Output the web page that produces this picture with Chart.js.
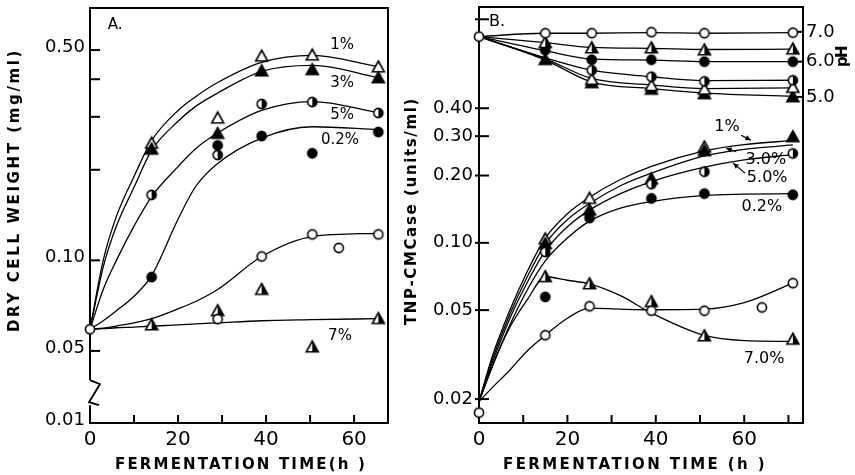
<!DOCTYPE html>
<html>
<head>
<meta charset="utf-8">
<script src="https://cdn.jsdelivr.net/npm/chart.js@4.4.0/dist/chart.umd.min.js"></script>
<style>
  html, body { margin: 0; padding: 0; background: #fff; }
  #wrap { position: relative; width: 855px; height: 475px; }
  #chartA { position: absolute; left: 0; top: 0; }
  #chartB { position: absolute; left: 400px; top: 0; }
</style>
</head>
<body>
<div id="wrap">
  <canvas id="chartA" width="400" height="475"></canvas>
  <canvas id="chartB" width="455" height="475"></canvas>
</div>
<script>
// ---------- Panel A: dry cell weight (mg/ml) ----------
const timeA = [0, 14, 29, 39, 50.5, 65.5];
const dcwCtrlA = [0.059, null, 0.0638, 0.103, 0.122, 0.122];
const dcw1A = [null, 0.245, 0.297, 0.477, 0.481, 0.439];
const dcw3A = [null, 0.234, 0.264, 0.426, 0.430, 0.404];
const dcw5A = [null, 0.165, 0.224, 0.331, 0.336, 0.309];
const dcw02A = [null, 0.088, 0.241, 0.259, 0.227, 0.267];
const dcw7A = [null, 0.061, 0.068, 0.080, 0.0515, 0.064];
const strayTimeA = [56.5];
const strayCtrlA = [0.110];

// hand drawn fitted curves of panel A
const fitTimeA = [0, 3, 6, 10, 14, 20, 24, 29, 39, 50.5, 65.5];
const fit1A = [0.059, 0.10, 0.14, 0.19, 0.25, 0.315, 0.35, 0.39, 0.455, 0.48, 0.44];
const fit3A = [0.059, 0.095, 0.13, 0.175, 0.232, 0.29, 0.325, 0.36, 0.425, 0.445, 0.405];
const fit5A = [0.059, 0.08, 0.10, 0.13, 0.163, 0.205, 0.235, 0.265, 0.315, 0.337, 0.31];
const fit02A = [0.059, 0.063, 0.068, 0.076, 0.089, 0.137, 0.176, 0.21, 0.255, 0.278, 0.272];
const fitCtrlA = [0.059, 0.0595, 0.0605, 0.062, 0.064, 0.069, 0.073, 0.08, 0.103, 0.12, 0.123];
const fit7A = [0.059, 0.0593, 0.0597, 0.060, 0.0605, 0.061, 0.0615, 0.062, 0.063, 0.0635, 0.064];

const yTicksA = [0.0288, 0.05, 0.1, 0.2, 0.3, 0.4, 0.5];
const yLabelsA = ['0.01', '0.05', '0.10', '', '', '', '0.50'];
const xTicksA = [0, 20, 40, 60];
const xMinorA = [10, 20, 30, 40, 50, 60];
const breakA = [0.040, 0.033];
const notesA = [['A.', 5.7, 0.605], ['1%', 57.3, 0.519], ['3%', 57.3, 0.388],
                ['5%', 57.3, 0.304], ['0.2%', 56.8, 0.251], ['7%', 56.8, 0.056]];

// ---------- Panel B: TNP-CMCase (units/ml) and pH ----------
const timeB = [0, 15, 25, 39, 51, 71];
const encCtrlB = [0.0174, 0.0386, 0.052, 0.0497, 0.0497, 0.066];
const enc1B = [null, 0.104, 0.158, null, 0.268, null];
const enc3B = [null, 0.099, 0.140, 0.193, 0.258, 0.298];
const enc5B = [null, 0.091, null, 0.183, 0.208, 0.251];
const enc02B = [null, 0.0573, 0.129, 0.158, 0.166, 0.164];
const enc7B = [null, 0.0705, 0.0655, 0.0545, 0.0383, 0.037];
const strayTimeB = [64];
const strayCtrlB = [0.0514];

const fitTimeB = [0, 3, 7, 11, 15, 20, 25, 32, 39, 51, 60, 71];
const fit1B = [0.0195, 0.031, 0.05, 0.075, 0.105, 0.135, 0.16, 0.192, 0.22, 0.258, 0.275, 0.287];
const fit3B = [0.0195, 0.030, 0.048, 0.071, 0.099, 0.127, 0.15, 0.18, 0.205, 0.245, 0.262, 0.274];
const fit5B = [0.0195, 0.029, 0.046, 0.067, 0.092, 0.118, 0.14, 0.166, 0.188, 0.218, 0.235, 0.248];
const fit02B = [0.0195, 0.028, 0.043, 0.062, 0.083, 0.105, 0.125, 0.143, 0.153, 0.163, 0.165, 0.166];
const fit7B = [0.0195, 0.028, 0.042, 0.056, 0.0705, 0.068, 0.0655, 0.058, 0.0485, 0.0385, 0.0365, 0.0362];
const fitCtrlB = [0.0195, 0.0225, 0.027, 0.033, 0.0386, 0.046, 0.051, 0.0505, 0.0502, 0.0505, 0.054, 0.066];

const timePH = [0, 15, 25.5, 39, 51, 71];
const phCtrl = [6.83, 6.95, 6.95, 6.99, 6.95, 6.97];
const ph7 = [null, 6.62, 6.44, 6.44, 6.37, 6.40];
const ph02 = [null, 6.37, 6.06, 6.06, 6.00, 6.00];
const ph5 = [null, null, 5.74, 5.55, 5.42, 5.45];
const ph1 = [null, null, 5.47, 5.30, 5.20, 5.25];
const ph3 = [null, 6.06, 5.38, 5.20, 5.08, 5.00];
const phFitCtrl = [6.83, 6.95, 6.95, 6.97, 6.95, 6.97];
const phFit7 = [6.83, 6.62, 6.46, 6.43, 6.39, 6.40];
const phFit02 = [6.83, 6.35, 6.08, 6.05, 6.00, 6.00];
const phFit5 = [6.83, 6.12, 5.74, 5.55, 5.44, 5.45];
const phFit1 = [6.83, 6.09, 5.50, 5.32, 5.22, 5.24];
const phFit3 = [6.83, 6.05, 5.40, 5.22, 5.10, 5.02];

const yTicksB = [0.02, 0.05, 0.1, 0.2, 0.3, 0.4, 1.0];
const yLabelsB = ['0.02', '0.05', '0.10', '0.20', '0.30', '0.40', ''];
const phTicks = [5, 6, 7];
const phLabels = ['5.0', '6.0', '7.0'];
const xTicksB = [0, 20, 40, 60];
const xMinorB = [10, 20, 30, 40, 50, 60, 70];
const notesB = [['B.', 4.1, 0.972], ['1%', 56.1, 0.330], ['3.0%', 64.9, 0.234],
                ['5.0%', 65.2, 0.195], ['0.2%', 64.0, 0.1445], ['7.0%', 64.5, 0.0302]];
const arrowsB = [[59.3, 0.303, 61.5, 0.288], [58.2, 0.256, 55.9, 0.265], [60.2, 0.205, 57.5, 0.227]];

// ---------- helpers ----------
const FONT = 'DejaVu Sans';
Chart.defaults.color = '#000';
Chart.defaults.font.family = FONT;

function marker(kind) {
    const s = 16, m = 8;
    const c = document.createElement('canvas');
    c.width = s; c.height = s;
    const g = c.getContext('2d');
    const tri = kind.endsWith('Tri');
    const r = tri ? 6 : 4.6;
    const path = () => {
        g.beginPath();
        if (tri) {
            g.moveTo(m, m - r); g.lineTo(m + r, m + r * 0.8); g.lineTo(m - r, m + r * 0.8); g.closePath();
        } else {
            g.arc(m, m, r, 0, Math.PI * 2);
        }
    };
    path();
    g.fillStyle = kind.startsWith('filled') ? '#000' : '#fff';
    g.fill();
    if (kind.startsWith('half')) {
        g.save(); path(); g.clip();
        g.fillStyle = '#000'; g.fillRect(m, 0, s, s);
        g.restore();
    }
    path();
    g.lineWidth = 1.6; g.strokeStyle = '#000'; g.stroke();
    return c;
}
const M = {
    openCircle: marker('openCircle'), filledCircle: marker('filledCircle'), halfCircle: marker('halfCircle'),
    openTri: marker('openTri'), filledTri: marker('filledTri'), halfTri: marker('halfTri')
};

const pts = (xs, ys) => xs.map((x, i) => ({ x: x, y: ys[i] })).filter(p => p.y !== null);
const curve = (xs, ys, axis) => ({
    type: 'line', data: pts(xs, ys), yAxisID: axis || 'y',
    borderColor: '#000', borderWidth: 1.3, pointRadius: 0,
    cubicInterpolationMode: 'monotone', fill: false, order: 2
});
const marks = (xs, ys, style, axis) => ({
    type: 'scatter', data: pts(xs, ys), yAxisID: axis || 'y',
    pointStyle: style, pointRadius: 6, showLine: false, clip: false, order: 1
});

// no label overflow padding, the frame must sit where the reference has it
const fixY = w => s => { s.width = w; s.paddingTop = 0; s.paddingBottom = 0; };
const fixX = h => s => { s.height = h; s.paddingLeft = 0; s.paddingRight = 0; };

function line(ctx, x1, y1, x2, y2) {
    ctx.beginPath(); ctx.moveTo(x1, y1); ctx.lineTo(x2, y2); ctx.stroke();
}
function spacedText(ctx, text, cx, cy, width, angle) {
    ctx.save();
    ctx.translate(cx, cy);
    ctx.rotate(angle);
    ctx.letterSpacing = '0px';
    const w0 = ctx.measureText(text).width;
    ctx.letterSpacing = ((width - w0) / text.length) + 'px';
    ctx.textAlign = 'left';
    ctx.textBaseline = 'middle';
    ctx.fillText(text, -width / 2, 0);
    ctx.restore();
}
function notes(ctx, x, y, list, size) {
    ctx.save();
    ctx.font = size + 'px ' + FONT;
    ctx.fillStyle = '#000';
    ctx.textAlign = 'center';
    ctx.textBaseline = 'middle';
    list.forEach(n => ctx.fillText(n[0], x.getPixelForValue(n[1]), y.getPixelForValue(n[2])));
    ctx.restore();
}

const baseOptions = {
    responsive: false,
    animation: false,
    events: [],
    plugins: { legend: { display: false }, tooltip: { enabled: false } }
};

// ---------- Chart A ----------
const plugA = {
    id: 'plugA',
    beforeDatasetsDraw(chart) {
        const { ctx, chartArea: a, scales: { x, y } } = chart;
        ctx.save();
        ctx.strokeStyle = '#000';
        ctx.lineWidth = 2;
        const bTop = y.getPixelForValue(breakA[0]);
        const bBot = y.getPixelForValue(breakA[1]);
        ctx.beginPath();
        ctx.moveTo(a.left, bTop); ctx.lineTo(a.left, a.top); ctx.lineTo(a.right, a.top);
        ctx.lineTo(a.right, a.bottom); ctx.lineTo(a.left, a.bottom); ctx.lineTo(a.left, bBot);
        ctx.stroke();
        // axis break
        ctx.lineWidth = 1.8;
        ctx.beginPath();
        ctx.moveTo(a.left, bTop); ctx.lineTo(a.left + 10, bTop + 4);
        ctx.lineTo(a.left - 1, bBot - 3); ctx.lineTo(a.left + 9, bBot);
        ctx.stroke();
        ctx.lineWidth = 2;
        yTicksA.slice(1).forEach(v => {
            const py = y.getPixelForValue(v);
            line(ctx, a.left, py, a.left + 10, py);
        });
        xMinorA.forEach(t => {
            const px = x.getPixelForValue(t);
            line(ctx, px, a.bottom, px, a.bottom - 8);
        });
        ctx.restore();
    },
    afterDraw(chart) {
        const { ctx, scales: { x, y } } = chart;
        notes(ctx, x, y, notesA, 15);
        ctx.save();
        ctx.fillStyle = '#000';
        ctx.font = 'bold 15px ' + FONT;
        spacedText(ctx, 'DRY CELL WEIGHT (mg/ml)', 15, 190, 284, -Math.PI / 2);
        spacedText(ctx, 'FERMENTATION TIME(h )', 241, 465, 252, 0);
        ctx.restore();
    }
};

new Chart(document.getElementById('chartA'), {
    type: 'scatter',
    data: {
        datasets: [
            marks(timeA, dcwCtrlA, M.openCircle),
            marks(strayTimeA, strayCtrlA, M.openCircle),
            marks(timeA, dcw7A, M.halfTri),
            marks(timeA, dcw02A, M.filledCircle),
            marks(timeA, dcw5A, M.halfCircle),
            marks(timeA, dcw3A, M.filledTri),
            marks(timeA, dcw1A, M.openTri),
            curve(fitTimeA, fit1A),
            curve(fitTimeA, fit3A),
            curve(fitTimeA, fit5A),
            curve(fitTimeA, fit02A),
            curve(fitTimeA, fitCtrlA),
            curve(fitTimeA, fit7A)
        ]
    },
    options: {
        ...baseOptions,
        layout: { padding: { top: 8, right: 12, left: 0, bottom: 0 } },
        scales: {
            x: {
                type: 'linear', min: 0, max: 67.7,
                grid: { display: false, drawTicks: false }, border: { display: false },
                afterBuildTicks: s => { s.ticks = xTicksA.map(v => ({ value: v })); },
                afterFit: fixX(52),
                ticks: { autoSkip: false, maxRotation: 0, padding: 5, font: { size: 20 }, callback: v => String(v) }
            },
            y: {
                type: 'logarithmic', min: 0.0288, max: 0.690,
                grid: { display: false, drawTicks: false }, border: { display: false },
                afterBuildTicks: s => { s.ticks = yTicksA.map(v => ({ value: v })); },
                afterFit: fixY(90),
                ticks: { autoSkip: false, padding: 5, labelOffset: -3, font: { size: 18 },
                         callback: (v, i) => yLabelsA[i] }
            }
        }
    },
    plugins: [plugA]
});

// ---------- Chart B ----------
const plugB = {
    id: 'plugB',
    beforeDatasetsDraw(chart) {
        const { ctx, chartArea: a, scales: { x, y, y2 } } = chart;
        ctx.save();
        ctx.strokeStyle = '#000';
        ctx.lineWidth = 2;
        ctx.strokeRect(a.left, a.top, a.right - a.left, a.bottom - a.top);
        yTicksB.forEach(v => {
            const py = y.getPixelForValue(v);
            line(ctx, a.left - 4, py, a.left + 10, py);
        });
        phTicks.forEach(v => {
            const py = y2.getPixelForValue(v);
            line(ctx, a.right - 8, py, a.right, py);
        });
        xMinorB.forEach(t => {
            const px = x.getPixelForValue(t);
            line(ctx, px, a.bottom, px, a.bottom - 8);
        });
        ctx.restore();
    },
    afterDraw(chart) {
        const { ctx, scales: { x, y } } = chart;
        notes(ctx, x, y, notesB, 16);
        ctx.save();
        ctx.strokeStyle = '#000';
        ctx.fillStyle = '#000';
        ctx.lineWidth = 1.2;
        arrowsB.forEach(ar => {
            const x1 = x.getPixelForValue(ar[0]), y1 = y.getPixelForValue(ar[1]);
            const x2 = x.getPixelForValue(ar[2]), y2 = y.getPixelForValue(ar[3]);
            line(ctx, x1, y1, x2, y2);
            const ang = Math.atan2(y2 - y1, x2 - x1);
            ctx.beginPath();
            ctx.moveTo(x2, y2);
            ctx.lineTo(x2 - 6 * Math.cos(ang - 0.45), y2 - 6 * Math.sin(ang - 0.45));
            ctx.lineTo(x2 - 6 * Math.cos(ang + 0.45), y2 - 6 * Math.sin(ang + 0.45));
            ctx.closePath();
            ctx.fill();
        });
        ctx.font = 'bold 15px ' + FONT;
        spacedText(ctx, 'TNP-CMCase (units/ml)', 12, 211, 228, -Math.PI / 2);
        spacedText(ctx, 'pH', 443, 57, 20, -Math.PI / 2);
        spacedText(ctx, 'FERMENTATION TIME (h )', 235, 465, 264, 0);
        ctx.restore();
    }
};

new Chart(document.getElementById('chartB'), {
    type: 'scatter',
    data: {
        datasets: [
            marks(timeB, encCtrlB, M.openCircle),
            marks(strayTimeB, strayCtrlB, M.openCircle),
            marks(timeB, enc7B, M.halfTri),
            marks(timeB, enc02B, M.filledCircle),
            marks(timeB, enc5B, M.halfCircle),
            marks(timeB, enc3B, M.filledTri),
            marks(timeB, enc1B, M.openTri),
            marks(timePH, phCtrl, M.openCircle, 'y2'),
            marks(timePH, ph7, M.halfTri, 'y2'),
            marks(timePH, ph02, M.filledCircle, 'y2'),
            marks(timePH, ph5, M.halfCircle, 'y2'),
            marks(timePH, ph1, M.openTri, 'y2'),
            marks(timePH, ph3, M.filledTri, 'y2'),
            curve(fitTimeB, fit1B),
            curve(fitTimeB, fit3B),
            curve(fitTimeB, fit5B),
            curve(fitTimeB, fit02B),
            curve(fitTimeB, fit7B),
            curve(fitTimeB, fitCtrlB),
            curve(timePH, phFitCtrl, 'y2'),
            curve(timePH, phFit7, 'y2'),
            curve(timePH, phFit02, 'y2'),
            curve(timePH, phFit5, 'y2'),
            curve(timePH, phFit1, 'y2'),
            curve(timePH, phFit3, 'y2')
        ]
    },
    options: {
        ...baseOptions,
        layout: { padding: { top: 7, right: 0, left: 0, bottom: 0 } },
        scales: {
            x: {
                type: 'linear', min: 0, max: 73.3,
                grid: { display: false, drawTicks: false }, border: { display: false },
                afterBuildTicks: s => { s.ticks = xTicksB.map(v => ({ value: v })); },
                afterFit: fixX(52),
                ticks: { autoSkip: false, maxRotation: 0, padding: 5, font: { size: 20 }, callback: v => String(v) }
            },
            y: {
                type: 'logarithmic', position: 'left', min: 0.01563, max: 1.135,
                grid: { display: false, drawTicks: false }, border: { display: false },
                afterBuildTicks: s => { s.ticks = yTicksB.map(v => ({ value: v })); },
                afterFit: fixY(79),
                ticks: { autoSkip: false, padding: 6, font: { size: 18 }, callback: (v, i) => yLabelsB[i] }
            },
            y2: {
                type: 'logarithmic', position: 'right', min: 0.926, max: 7.96,
                grid: { display: false, drawTicks: false }, border: { display: false },
                afterBuildTicks: s => { s.ticks = phTicks.map(v => ({ value: v })); },
                afterFit: fixY(52),
                ticks: { autoSkip: false, padding: 3, font: { size: 18 }, callback: (v, i) => phLabels[i] }
            }
        }
    },
    plugins: [plugB]
});
</script>
</body>
</html>
